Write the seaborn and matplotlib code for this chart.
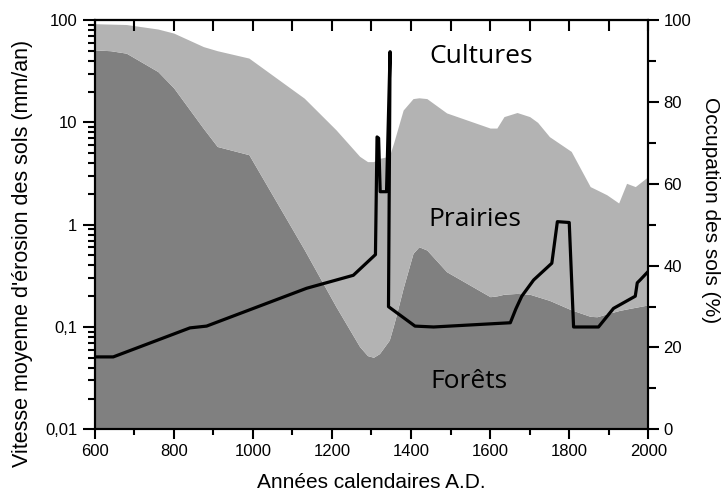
# Erosion des sols et occupation des sols (600 - 2000 A.D.)
import numpy as np
import matplotlib
matplotlib.use("Agg")
import matplotlib.pyplot as plt
import matplotlib.ticker as mticker
import seaborn as sns

# --------------------------------------------
# Data
# --------------------------------------------

# land use, in % (right axis)
years_land = [600, 640, 680, 760, 800, 875, 910, 990, 1130, 1210, 1270, 1290,
              1305, 1320, 1345, 1356, 1365, 1380, 1405, 1420, 1440, 1490, 1600,
              1617, 1635, 1668, 1700, 1720, 1750, 1805, 1853, 1870, 1895, 1925,
              1945, 1967, 2000]
forest_pct = [92.7, 92.5, 91.9, 87.4, 83.4, 73.5, 69.1, 67.1, 43.9, 30.0, 20.2, 18.0,
              17.6, 18.5, 21.8, 25.5, 28.8, 34.5, 43.0, 44.6, 43.8, 38.5, 32.4,
              32.6, 33.0, 33.2, 33.0, 32.4, 31.5, 29.2, 27.6, 27.5, 28.2, 29.0,
              29.4, 29.8, 30.4]
# forests + prairies (upper edge of the prairie band)
prairie_top_pct = [99.1, 99.0, 98.9, 97.8, 96.8, 93.5, 92.5, 90.7, 80.9, 73.2, 66.7, 65.4,
                   65.4, 66.2, 66.7, 70.0, 73.0, 78.0, 80.8, 81.0, 80.8, 77.3, 73.6,
                   73.6, 76.4, 77.4, 76.4, 75.0, 71.5, 67.9, 59.3, 58.5, 57.3, 55.3,
                   60.1, 59.3, 61.8]

# mean soil erosion rate, mm/an (left axis, log)
years_erosion = [600, 647, 841, 883, 1136, 1254, 1310, 1314, 1318, 1322, 1338, 1347,
                 1343, 1410, 1457, 1651, 1665, 1680, 1710, 1756, 1770, 1800, 1811,
                 1874, 1912, 1967, 1972, 1980, 2000]
erosion = [0.051, 0.051, 0.098, 0.102, 0.239, 0.32, 0.51, 7.2, 7.0, 2.1, 2.1, 49,
           0.158, 0.102, 0.1, 0.11, 0.15, 0.2, 0.288, 0.42, 1.07, 1.05, 0.1,
           0.1, 0.152, 0.2, 0.27, 0.29, 0.35]

log_ticks = [0.01, 0.1, 1, 10, 100]
log_labels = ["0,01", "0,1", "1", "10", "100"]
pct_ticks = [0, 20, 40, 60, 80, 100]

# --------------------------------------------
# Style
# --------------------------------------------

sns.set_style("ticks")
plt.rcParams["font.family"] = ["Liberation Sans", "DejaVu Sans"]
plt.rcParams["text.color"] = "black"
plt.rcParams["axes.labelcolor"] = "black"
plt.rcParams["axes.edgecolor"] = "black"
plt.rcParams["xtick.color"] = "black"
plt.rcParams["ytick.color"] = "black"

dark = "#808080"
light = "#b3b3b3"

fig = plt.figure(figsize=(7.21, 4.93), dpi=100)
ax = fig.add_axes([0.1313, 0.1292, 0.7679, 0.8302])
ax2 = ax.twinx()

# --------------------------------------------
# Land use areas (right axis)
# --------------------------------------------

ax2.fill_between(years_land, 0, forest_pct, color=dark, lw=0)
ax2.fill_between(years_land, forest_pct, prairie_top_pct, color=light, lw=0)
ax2.set_ylim(0, 100)
ax2.set_yticks(pct_ticks)
ax2.yaxis.set_minor_locator(mticker.MultipleLocator(10))
ax2.tick_params(axis="y", which="major", direction="out", length=8, width=1.5,
                labelsize=12, pad=3)
ax2.tick_params(axis="y", which="minor", direction="out", length=6, width=1.5)
ax2.set_ylabel("Occupation des sols (%)", fontsize=15, rotation=270, va="center")
ax2.yaxis.set_label_coords(1.113, 0.536)

label_font = ["Open Sans", "DejaVu Sans"]
ax2.text(1577, 91, "Cultures", fontsize=19, family=label_font, ha="center", va="center")
ax2.text(1562, 51.2, "Prairies", fontsize=19, family=label_font, ha="center", va="center")
ax2.text(1547, 11.6, "Forêts", fontsize=19, family=label_font, ha="center", va="center")

# --------------------------------------------
# Erosion rate line (left axis)
# --------------------------------------------

ax.set_zorder(ax2.get_zorder() + 1)
ax.patch.set_visible(False)

sns.lineplot(x=years_erosion, y=erosion, ax=ax, sort=False, estimator=None,
             color="black", lw=2.3)
ax.set_yscale("log")
ax.set_ylim(0.01, 100)
ax.yaxis.set_major_locator(mticker.FixedLocator(log_ticks))
ax.yaxis.set_major_formatter(mticker.FixedFormatter(log_labels))
ax.yaxis.set_minor_locator(mticker.LogLocator(base=10, subs=np.arange(2, 10)))
ax.yaxis.set_minor_formatter(mticker.NullFormatter())

ax.set_xlim(600, 2000)
ax.set_xticks(range(600, 2001, 200))
ax.xaxis.set_minor_locator(mticker.FixedLocator(range(700, 2000, 200)))
ax.tick_params(axis="x", which="major", direction="out", length=7, width=1.5, labelsize=12)
ax.tick_params(axis="x", which="minor", direction="out", length=4, width=1.5)
ax.tick_params(axis="y", which="major", direction="out", length=9, width=1.5, labelsize=12)
ax.tick_params(axis="y", which="minor", direction="out", length=5, width=1.5)

ax.set_xlabel("Années calendaires A.D.", fontsize=15, labelpad=10)
ax.set_ylabel("Vitesse moyenne d'érosion des sols (mm/an)", fontsize=15.5, va="center")
ax.yaxis.set_label_coords(-0.131, 0.43)

# top axis: inward ticks every 100 years, no labels
top = ax.secondary_xaxis("top")
top.set_xticks(range(600, 2001, 100))
top.set_xticklabels([])
top.tick_params(direction="in", length=8, width=1.5)

for a in (ax, ax2):
    for s in a.spines.values():
        s.set_linewidth(1.5)
top.spines["top"].set_linewidth(1.5)

fig.savefig("out.png", dpi=100)
